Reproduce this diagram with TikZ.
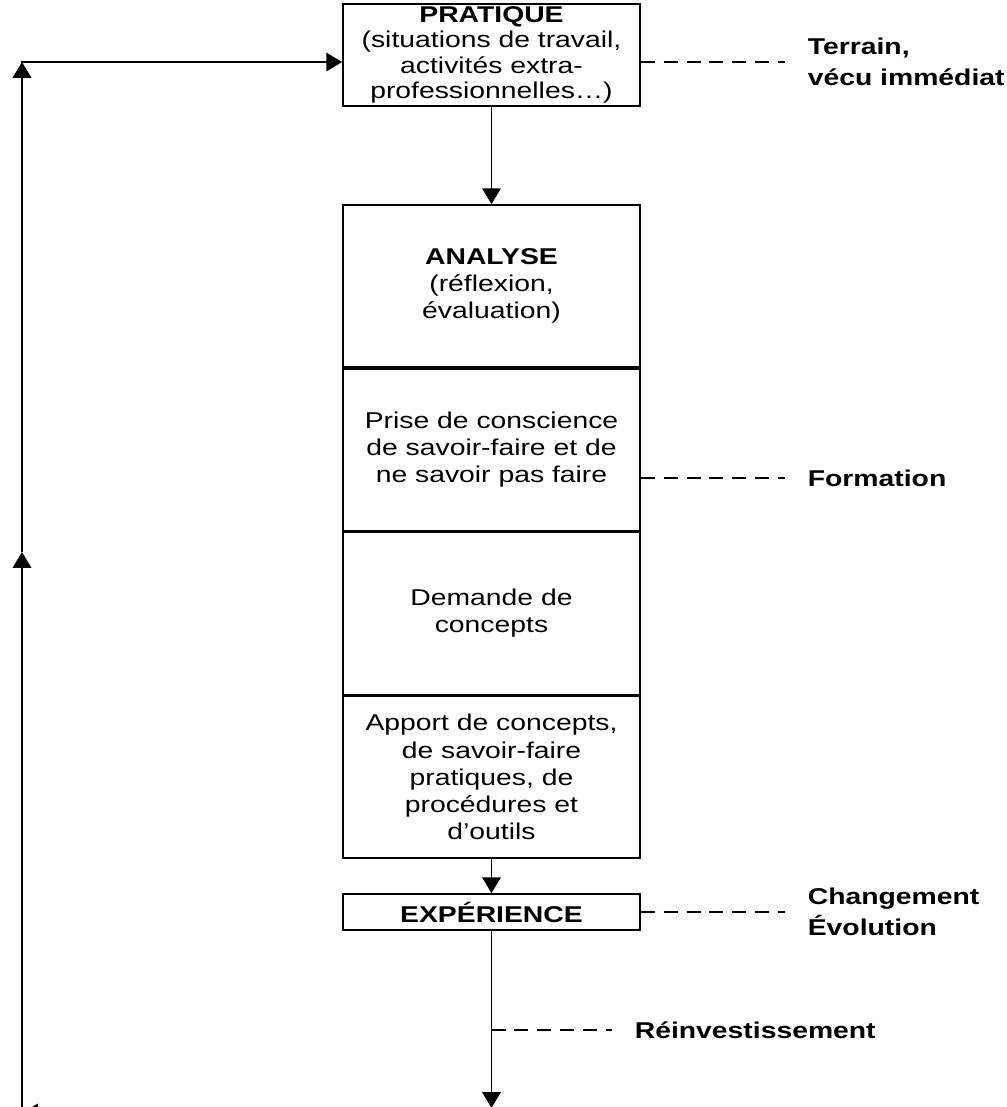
\documentclass[tikz,border=0pt]{standalone}
\usepackage{fontspec}
\setmainfont{Liberation Sans}[FakeStretch=1.24]
\usetikzlibrary{positioning,arrows.meta}

\tikzset{
  box/.style={draw, line width=1pt, minimum width=5.94cm, inner sep=0pt, align=center, font=\fontsize{13}{15.5}\selectfont},
  part/.style={box, minimum height=3.24cm},
  lab/.style={anchor=west, align=left, inner sep=0.45cm, font=\fontsize{13}{17.5}\selectfont\bfseries},
  link/.style={line width=1.5pt, dash pattern=on 8pt off 5pt},
  flow/.style={line width=1.1pt, -{Triangle[width=10.5pt,length=9pt]}}
}

\begin{document}
\begin{tikzpicture}[x=0.02cm, y=-0.02cm]
    \useasboundingbox (0,0) rectangle (1007,1107);

    %Boxes
    \node[box, minimum height=2.04cm, font=\fontsize{13}{14.5}\selectfont] (pratique) at (491.5,55) {\textbf{PRATIQUE}\\(situations de travail,\\activités extra-\\professionnelles\dots)};
    \node[part] (analyse) at (491.5,286) {\textbf{ANALYSE}\\(réflexion,\\évaluation)};
    \node[part, below=0pt of analyse] (prise) {Prise de conscience\\de savoir-faire et de\\ne savoir pas faire};
    \node[part, below=0pt of prise] (demande) {Demande de\\concepts};
    \node[part, below=0pt of demande] (apport) {Apport de concepts,\\de savoir-faire\\pratiques, de\\procédures et\\d’outils};
    \node[box, minimum height=0.72cm] (experience) at (491.5,912) {\textbf{EXPÉRIENCE}};

    %Labels
    \node[lab] (terrain) at (785,62) {Terrain,\\vécu immédiat};
    \node[lab] (formation) at (785,478) {Formation};
    \node[lab] (changement) at (785,912) {Changement\\Évolution};
    \node[lab] (reinvest) at (612,1030) {Réinvestissement};

    %Dashed links
    \draw[link] (pratique.east |- terrain.west) -- (terrain.west);
    \draw[link] (prise.east |- formation.west) -- (formation.west);
    \draw[link] (experience.east |- changement.west) -- (changement.west);
    \draw[link] (experience.south |- reinvest.west) -- (reinvest.west);

    %Arrows
    \coordinate (bottom) at (491.5,1108);
    \coordinate (corner) at (22,62);
    \coordinate (leftmid) at (22,552);
    \coordinate (leftlow) at (22,1113);
    \draw[flow] (pratique) -- (analyse);
    \draw[flow] (apport) -- (experience);
    \draw[flow] (experience) -- (bottom);
    \draw[flow] (491.5,1113) -- (leftlow);
    \draw[flow] (leftlow) -- (leftmid);
    \draw[flow] (leftmid) -- (corner);
    \draw[flow] ([xshift=-0.55pt]corner) -- (corner -| pratique.west);
\end{tikzpicture}
\end{document}
